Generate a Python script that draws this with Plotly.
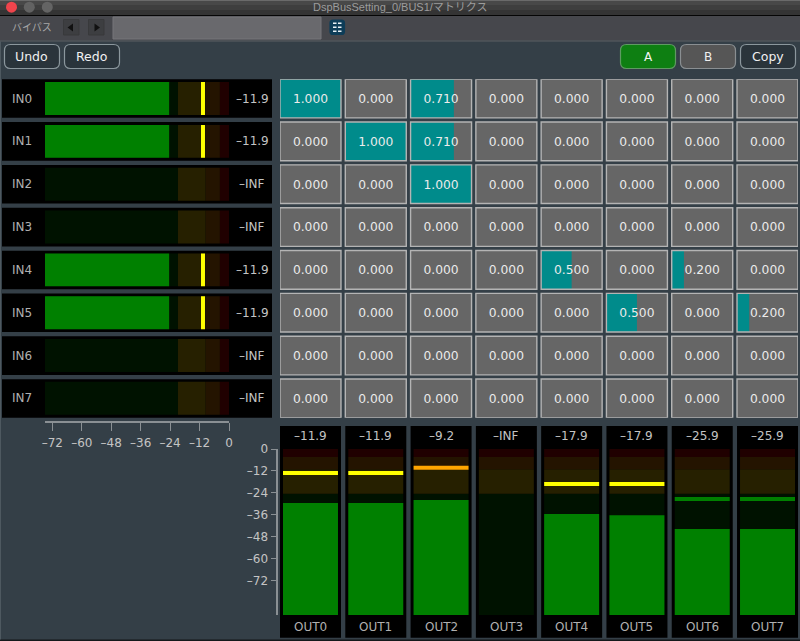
import plotly.graph_objects as go

W, H = 800, 641
FONT = "DejaVu Sans"
TITLE_FONT = "Liberation Sans, Noto Sans CJK JP"

# matrix gains, one list per input row
in_names = ["IN0", "IN1", "IN2", "IN3", "IN4", "IN5", "IN6", "IN7"]
gain_in0 = [1.0, 0.0, 0.71, 0.0, 0.0, 0.0, 0.0, 0.0]
gain_in1 = [0.0, 1.0, 0.71, 0.0, 0.0, 0.0, 0.0, 0.0]
gain_in2 = [0.0, 0.0, 1.0, 0.0, 0.0, 0.0, 0.0, 0.0]
gain_in3 = [0.0, 0.0, 0.0, 0.0, 0.0, 0.0, 0.0, 0.0]
gain_in4 = [0.0, 0.0, 0.0, 0.0, 0.5, 0.0, 0.2, 0.0]
gain_in5 = [0.0, 0.0, 0.0, 0.0, 0.0, 0.5, 0.0, 0.2]
gain_in6 = [0.0, 0.0, 0.0, 0.0, 0.0, 0.0, 0.0, 0.0]
gain_in7 = [0.0, 0.0, 0.0, 0.0, 0.0, 0.0, 0.0, 0.0]
gains = [gain_in0, gain_in1, gain_in2, gain_in3, gain_in4, gain_in5, gain_in6, gain_in7]

# input meters, dB
in_level = [-24.4, -24.4, None, None, -24.4, -24.4, None, None]
in_peak = [-10.6, -10.6, None, None, -10.6, -10.6, None, None]
in_readout = ["–11.9", "–11.9", "–INF", "–INF", "–11.9", "–11.9", "–INF", "–INF"]
in_zone_edges = [-75, -20.8, -9.5, -3.7, 0]
in_ticks = [-72, -60, -48, -36, -24, -12, 0]
in_tick_text = ["–72", "–60", "–48", "–36", "–24", "–12", "0"]

# output meters, dB
out_names = ["OUT0", "OUT1", "OUT2", "OUT3", "OUT4", "OUT5", "OUT6", "OUT7"]
out_level = [-29.5, -29.5, -27.9, None, -35.5, -36.1, -43.7, -43.7]
out_peak = [-13.1, -13.1, -10.2, None, -19.1, -19.1, -27.3, -27.3]
out_peak_color = ["#ffff00", "#ffff00", "#ffa500", "#ffff00", "#ffff00", "#ffff00", "#008000", "#008000"]
out_readout = ["–11.9", "–11.9", "–9.2", "–INF", "–17.9", "–17.9", "–25.9", "–25.9"]
out_zone_edges = [-90.6, -24.4, -11.1, -4.4, 0]
out_ticks = [0, -12, -24, -36, -48, -60, -72]
out_tick_text = ["0", "–12", "–24", "–36", "–48", "–60", "–72"]

zone_colors = ["#001200", "#262000", "#241400", "#200000"]

BG = "#343f47"
TEXT = "#c4c4c4"
TEAL = "#008b8b"
GREEN = "#008000"


def fx(x):
    return x / W


def fy(y):
    return 1 - y / H


def rect(x0, y0, x1, y1, fill, line=None, lw=1, layer="below"):
    return dict(type="rect", xref="paper", yref="paper", x0=fx(x0), x1=fx(x1), y0=fy(y0), y1=fy(y1),
                fillcolor=fill, line=dict(color=line or fill, width=lw if line else 0), layer=layer)


def round_rect(x0, y0, x1, y1, r, fill, line):
    # rounded box in page pixels
    pts = [("M", x0 + r, y0), ("L", x1 - r, y0), ("Q", x1, y0, x1, y0 + r), ("L", x1, y1 - r),
           ("Q", x1, y1, x1 - r, y1), ("L", x0 + r, y1), ("Q", x0, y1, x0, y1 - r), ("L", x0, y0 + r),
           ("Q", x0, y0, x0 + r, y0)]
    path = ""
    for p in pts:
        path += p[0] + " " + " ".join(
            f"{fx(v):.5f}" if i % 2 == 0 else f"{fy(v):.5f}" for i, v in enumerate(p[1:])) + " "
    return dict(type="path", xref="paper", yref="paper", path=path + "Z", fillcolor=fill,
                line=dict(color=line, width=1.2), layer="below")


def tri(points, fill):
    path = "M " + " L ".join(f"{fx(x):.5f} {fy(y):.5f}" for x, y in points) + " Z"
    return dict(type="path", xref="paper", yref="paper", path=path, fillcolor=fill, line=dict(width=0), layer="below")


def label(x, y, text, size=12, color=TEXT, font=FONT):
    return dict(xref="paper", yref="paper", x=fx(x), y=fy(y), text=text, showarrow=False,
                xanchor="center", yanchor="middle", font=dict(family=font, size=size, color=color))


CELL = 0.934
ROW = 0.903
IN_BAR = 0.77
OUT_BAR = 0.842
PEAK_IN = 1.63
PEAK_OUT = 2.18
IN_FLOOR = in_zone_edges[0]
OUT_FLOOR = out_zone_edges[0]

cols = list(range(8))
rows = list(range(8))
fig = go.Figure()

# matrix cells
cell_x, cell_y, fill_x, cell_text = [], [], [], []
for r in rows:
    for c in cols:
        cell_x.append(c)
        cell_y.append(r)
        fill_x.append(gains[r][c] * CELL)
        cell_text.append(f"{gains[r][c]:.3f}")
left = [c - CELL / 2 for c in cell_x]

fig.add_trace(go.Bar(x=[CELL] * 64, y=cell_y, base=left, orientation="h", width=ROW,
                     marker=dict(color="#666666", line=dict(width=0)), hoverinfo="skip"))
fig.add_trace(go.Bar(x=fill_x, y=cell_y, base=left, orientation="h", width=ROW,
                     marker=dict(color=TEAL, line=dict(width=0)), hoverinfo="skip"))
fig.add_trace(go.Bar(x=[CELL] * 64, y=cell_y, base=left, orientation="h", width=ROW,
                     marker=dict(color="rgba(0,0,0,0)", line=dict(color="#b4b4b4", width=1.4)), hoverinfo="skip"))
# text sits a pixel low in the cell
fig.add_trace(go.Scatter(x=cell_x, y=[r + 0.03 for r in cell_y], mode="text", text=cell_text, hoverinfo="skip",
                         textfont=dict(family=FONT, size=12.3, color="#ececec")))

# input meters
for i, color in enumerate(zone_colors):
    fig.add_trace(go.Bar(x=[in_zone_edges[i + 1] - in_zone_edges[i]] * 8, y=rows, base=in_zone_edges[i],
                         orientation="h", width=IN_BAR, marker=dict(color=color, line=dict(width=0)),
                         xaxis="x2", yaxis="y2", hoverinfo="skip"))
fig.add_trace(go.Bar(x=[None if v is None else v - IN_FLOOR for v in in_level], y=rows, base=IN_FLOOR,
                     orientation="h", width=IN_BAR, marker=dict(color=GREEN, line=dict(width=0)),
                     xaxis="x2", yaxis="y2", hoverinfo="skip"))
fig.add_trace(go.Bar(x=[None if v is None else PEAK_IN for v in in_peak], y=rows,
                     base=[None if v is None else v - PEAK_IN / 2 for v in in_peak],
                     orientation="h", width=IN_BAR, marker=dict(color="#ffff00", line=dict(width=0)),
                     xaxis="x2", yaxis="y2", hoverinfo="skip"))

# output meters
for i, color in enumerate(zone_colors):
    fig.add_trace(go.Bar(x=cols, y=[out_zone_edges[i + 1] - out_zone_edges[i]] * 8, base=out_zone_edges[i],
                         width=OUT_BAR, marker=dict(color=color, line=dict(width=0)),
                         xaxis="x3", yaxis="y3", hoverinfo="skip"))
fig.add_trace(go.Bar(x=cols, y=[None if v is None else v - OUT_FLOOR for v in out_level], base=OUT_FLOOR,
                     width=OUT_BAR, marker=dict(color=GREEN, line=dict(width=0)),
                     xaxis="x3", yaxis="y3", hoverinfo="skip"))
fig.add_trace(go.Bar(x=cols, y=[None if v is None else PEAK_OUT for v in out_peak],
                     base=[None if v is None else v - PEAK_OUT / 2 for v in out_peak],
                     width=OUT_BAR, marker=dict(color=out_peak_color, line=dict(width=0)),
                     xaxis="x3", yaxis="y3", hoverinfo="skip"))

# window chrome
shapes = [
    rect(0, 0, 800, 1, "#6a6a6a"),
    rect(0, 1, 800, 5, "#484848"),
    rect(0, 5, 800, 10, "#3e3e3e"),
    rect(0, 10, 800, 15, "#343434"),
    rect(0, 15, 800, 16, "#050505"),
    rect(0, 16, 800, 40.5, "#46474c"),
    rect(0, 40.5, 800, 41.5, "#5c6065"),
    rect(0, 639.5, 800, 641, "#14181b"),
    rect(0, 41.5, 0.8, 639.5, "#566067"),
    rect(113, 17, 321, 39, "#69696d", "#77777b"),
    rect(63.5, 19.5, 79, 35, "#3d3e41", "#38393b"),
    rect(88.5, 19.5, 104, 35, "#3d3e41", "#38393b"),
    tri([(67.5, 27.5), (73, 23.5), (73, 31.5)], "#111111"),
    tri([(100, 27.5), (94.5, 23.5), (94.5, 31.5)], "#111111"),
    round_rect(330, 20, 344.5, 34.5, 3, "#0e3d58", "#0e3d58"),
    round_rect(4.5, 44.5, 59.5, 68.5, 6, "#2a343b", "#8b979d"),
    round_rect(64.5, 44.5, 119.5, 68.5, 6, "#2a343b", "#8b979d"),
    round_rect(620.5, 44.5, 675.5, 68.5, 6, "#0e7f12", "#5f9a62"),
    round_rect(680.5, 44.5, 735.5, 68.5, 6, "#565656", "#8a8f92"),
    round_rect(740.5, 44.5, 795.5, 68.5, 6, "#2a343b", "#8b979d"),
]
for cx, color in [(11.5, "#f0444c"), (29.3, "#626262"), (47.3, "#646464")]:
    shapes.append(dict(type="circle", xref="paper", yref="paper", x0=fx(cx - 5.5), x1=fx(cx + 5.5),
                       y0=fy(12.7), y1=fy(1.7), fillcolor=color, line=dict(width=0), layer="below"))
for row_y in [22.5, 26.5, 30.5]:
    shapes.append(rect(333, row_y, 336.5, row_y + 1.5, "#e8f0f4"))
    shapes.append(rect(338, row_y, 341.5, row_y + 1.5, "#e8f0f4"))
for r in rows:
    top = 79.2 + 42.86 * r
    shapes.append(rect(2, top, 272, top + 38.6, "#000000"))
for c in cols:
    left_px = 280 + 65.29 * c
    shapes.append(rect(left_px, 426, left_px + 61, 637.7, "#000000"))

notes = [
    label(400, 7.5, "DspBusSetting_0/BUS1/マトリクス", 11, "#9c9c9c", TITLE_FONT),
    label(31.5, 27, "バイパス", 10, "#a8a8a8", "Noto Sans CJK JP"),
    label(31.5, 56.5, "Undo", 12.5, "#f0f0f0"),
    label(91.5, 56.5, "Redo", 12.5, "#f0f0f0"),
    label(648, 56.5, "A", 12, "#f4f4f4"),
    label(708, 56.5, "B", 12, "#f0f0f0"),
    label(768, 56.5, "Copy", 12.5, "#f0f0f0"),
]
for r in rows:
    notes.append(dict(xref="paper", yref="y2", x=fx(22), y=r, text=in_names[r], showarrow=False,
                      xanchor="center", yanchor="middle", font=dict(family=FONT, size=12, color="#b0b0b0")))
    notes.append(dict(xref="paper", yref="y2", x=fx(252), y=r, text=in_readout[r], showarrow=False,
                      xanchor="center", yanchor="middle", font=dict(family=FONT, size=12, color=TEXT)))
for c in cols:
    notes.append(dict(xref="x3", yref="paper", x=c, y=fy(435.7), text=out_readout[c], showarrow=False,
                      xanchor="center", yanchor="middle", font=dict(family=FONT, size=12, color=TEXT)))
    notes.append(dict(xref="x3", yref="paper", x=c, y=fy(627.3), text=out_names[c], showarrow=False,
                      xanchor="center", yanchor="middle", font=dict(family=FONT, size=12, color="#b0b0b0")))

col_range = [-CELL / 2, 7 + CELL / 2]
row_range = [7 + ROW / 2, -ROW / 2]
row_domain = [fy(417.7), fy(79.2)]
col_domain = [fx(280), fx(798)]
tick_font = dict(family=FONT, size=12, color=TEXT)

fig.update_layout(
    width=W, height=H,
    template="none",
    margin=dict(l=0, r=0, t=0, b=0),
    autosize=False,
    paper_bgcolor=BG,
    plot_bgcolor="rgba(0,0,0,0)",
    barmode="overlay",
    showlegend=False,
    hovermode=False,
    shapes=shapes,
    annotations=notes,
    xaxis=dict(domain=col_domain, range=col_range, visible=False, fixedrange=True, automargin=False),
    yaxis=dict(domain=row_domain, range=row_range, visible=False, fixedrange=True, automargin=False),
    xaxis2=dict(domain=[fx(45), fx(229)], range=[IN_FLOOR, 0], anchor="free", position=fy(421.7),
                tickmode="array", tickvals=in_ticks, ticktext=in_tick_text, ticks="outside", ticklen=8, tickwidth=1,
                tickcolor="#8a9094", showline=True, linecolor="#8a9094", linewidth=2, ticklabelstandoff=2,
                showgrid=False, zeroline=False, tickfont=tick_font, fixedrange=True, automargin=False),
    yaxis2=dict(domain=row_domain, range=row_range, visible=False, anchor="x2", fixedrange=True, automargin=False),
    xaxis3=dict(domain=col_domain, range=col_range, visible=False, anchor="y3", fixedrange=True, automargin=False),
    yaxis3=dict(domain=[fy(615), fy(449)], range=[OUT_FLOOR, 0], anchor="free", position=fx(276.5),
                tickmode="array", tickvals=out_ticks, ticktext=out_tick_text, ticks="outside", ticklen=5, tickwidth=1,
                tickcolor="#8a9094", showline=True, linecolor="#8a9094", linewidth=2,
                showgrid=False, zeroline=False, tickfont=tick_font, fixedrange=True, automargin=False),
)

fig.write_html("out.html", config=dict(displayModeBar=False),
               post_script="document.body.style.margin='0';document.documentElement.style.background='%s';" % BG)
